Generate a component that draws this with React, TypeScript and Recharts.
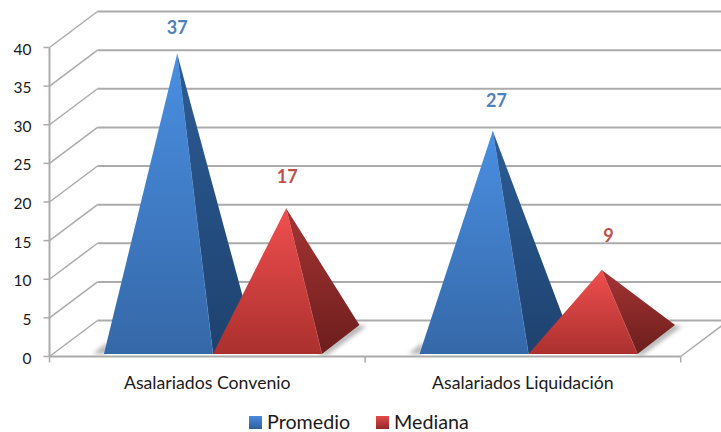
import React from "react";
import { BarChart, Bar, XAxis, YAxis, CartesianGrid, Legend, LabelList } from "recharts";

const categories = ["Asalariados Convenio", "Asalariados Liquidación"];
const promedio = [37, 27];
const mediana = [17, 9];
const yTicks = [0, 5, 10, 15, 20, 25, 30, 35, 40];

const rows = categories.map((name, i) => ({ name, promedio: promedio[i], mediana: mediana[i] }));

const FONT = "Lato, 'Open Sans', sans-serif";
const WIDTH = 721;
const HEIGHT = 432;
const PLOT_LEFT = 49.5;
const PLOT_RIGHT = 680.7;
const PLOT_TOP = 47.5;
const PLOT_BOTTOM = 356.5;
const BAND = (PLOT_RIGHT - PLOT_LEFT) / categories.length;

// Oblique projection of the wall behind the plot.
const WALL_DX = 48;
const WALL_DY = 36;
// Pyramid base: how far the front edge sits above the axis, and the depth vector of the base.
const BASE_LIFT = 2.5;
const APEX_LIFT = 17;
const BASE_DX = 37.5;
const BASE_DY = 29;
const SHIFT_X = 5.5;

const GRID = "#ababab";

const blueLook = {
  front: "url(#blueFront)",
  side: "url(#blueSide)",
  seam: "#4a80c4",
  label: "#4F81BD",
  nudges: [
    [0, -27],
    [3.7, -31],
  ],
};
const redLook = {
  front: "url(#redFront)",
  side: "url(#redSide)",
  seam: "#c94d4a",
  label: "#C0504D",
  nudges: [
    [1, -32],
    [6.7, -35],
  ],
};

const pts = (list: number[][]) => list.map((p) => p.join(",")).join(" ");

function geometry(x: number, y: number, width: number) {
  const left = x + SHIFT_X;
  const right = left + width;
  const baseY = PLOT_BOTTOM - BASE_LIFT;
  const apex = [left + width / 2 + BASE_DX / 2, y - APEX_LIFT];
  return { left, right, baseY, apex };
}

function makePyramid(look: typeof blueLook, castLeft: boolean) {
  return function Pyramid(props: any) {
    const { x, y, width } = props;
    const { left, right, baseY, apex } = geometry(x, y, width);
    const back = [right + BASE_DX, baseY - BASE_DY];
    const cast = castLeft
      ? [
          [left + 2, baseY],
          [left - 11, baseY],
          [left + 4, baseY - 12],
        ]
      : [
          [right - 4, baseY + 1],
          [right + 5, baseY + 1],
          [back[0] + 7, back[1] + 1],
          [back[0] - 3, back[1]],
        ];
    return (
      <g>
        <polygon points={pts(cast)} fill="#666" opacity={0.5} filter="url(#softCast)" />
        <polygon points={pts([[right, baseY], back, apex])} fill={look.side} />
        <polygon points={pts([[left, baseY], [right, baseY], apex])} fill={look.front} />
        <line
          x1={right}
          y1={baseY}
          x2={apex[0]}
          y2={apex[1]}
          stroke={look.seam}
          strokeWidth={0.8}
          strokeOpacity={0.5}
        />
      </g>
    );
  };
}

function makeValueLabel(look: typeof blueLook) {
  return function ValueLabel(props: any) {
    const { x, y, width, value, index } = props;
    const { apex } = geometry(x, y, width);
    const [dx, dy] = look.nudges[index];
    return (
      <text
        x={apex[0] + dx}
        y={apex[1] + dy}
        textAnchor="middle"
        dominantBaseline="central"
        fontFamily={FONT}
        fontWeight={700}
        fontSize={18}
        fill={look.label}
      >
        {value}
      </text>
    );
  };
}

// The category ticks stand on the band boundaries, and the floor's right edge runs back from the last one.
function CategoryTick(props: any) {
  const { x, payload, index } = props;
  const isLast = index === categories.length - 1;
  const leftEdge = x - BAND / 2;
  const rightEdge = x + BAND / 2;
  return (
    <g>
      <line x1={leftEdge} x2={leftEdge} y1={PLOT_BOTTOM} y2={PLOT_BOTTOM + 6} stroke={GRID} strokeWidth={1.5} />
      {isLast && (
        <>
          <line x1={rightEdge} x2={rightEdge} y1={PLOT_BOTTOM} y2={PLOT_BOTTOM + 6} stroke={GRID} strokeWidth={1.5} />
          <line
            x1={rightEdge}
            y1={PLOT_BOTTOM}
            x2={rightEdge + WALL_DX}
            y2={PLOT_BOTTOM - WALL_DY}
            stroke={GRID}
            strokeWidth={1.5}
          />
        </>
      )}
      <text
        x={x}
        y={382}
        textAnchor="middle"
        dominantBaseline="central"
        fontFamily={FONT}
        fontSize={17.7}
        fill="#1a1a1a"
      >
        {payload.value}
      </text>
    </g>
  );
}

function WallLine(props: any) {
  const { x1, x2, y1 } = props;
  const bx = x1 + WALL_DX;
  const by = y1 - WALL_DY;
  return (
    <g fill="none" stroke={GRID}>
      <line x1={x1} y1={y1} x2={bx} y2={by} strokeWidth={1.5} />
      <line x1={bx} y1={by} x2={x2 + WALL_DX} y2={by} strokeWidth={2} />
    </g>
  );
}

const swatches: Record<string, string> = {
  Promedio: "linear-gradient(#4a8cdc, #2f5f9c)",
  Mediana: "linear-gradient(#e54b4b, #8f2a28)",
};

function LegendRow(props: any) {
  const items = props.payload || [];
  return (
    <div style={{ display: "flex", alignItems: "center", fontFamily: FONT, fontSize: 19.7, lineHeight: "24px", color: "#1a1a1a" }}>
      {items.map((item: any, i: number) => (
        <div key={item.value} style={{ display: "flex", alignItems: "center", marginRight: i === 0 ? 26 : 0 }}>
          <span style={{ width: 13, height: 13, background: swatches[item.value], display: "inline-block", marginRight: 5 }} />
          <span>{item.value}</span>
        </div>
      ))}
    </div>
  );
}

export default function App() {
  return (
    <div style={{ position: "absolute", left: 0, top: 0, width: WIDTH, height: HEIGHT, overflow: "hidden", background: "#fff" }}>
      <BarChart
        width={WIDTH}
        height={HEIGHT}
        data={rows}
        margin={{ top: PLOT_TOP, right: WIDTH - PLOT_RIGHT, bottom: 0, left: 0 }}
        barCategoryGap="15.5%"
        barGap={0}
      >
        <defs>
          <linearGradient id="blueFront" x1="0" y1="0" x2="0" y2="1">
            <stop offset="0" stopColor="#4a8fe2" />
            <stop offset="1" stopColor="#3568a8" />
          </linearGradient>
          <linearGradient id="blueSide" x1="0" y1="0" x2="0" y2="1">
            <stop offset="0" stopColor="#2c5c96" />
            <stop offset="1" stopColor="#1e426f" />
          </linearGradient>
          <linearGradient id="redFront" x1="0" y1="0" x2="0" y2="1">
            <stop offset="0" stopColor="#f04f4f" />
            <stop offset="1" stopColor="#aa302e" />
          </linearGradient>
          <linearGradient id="redSide" x1="0" y1="0" x2="0" y2="1">
            <stop offset="0" stopColor="#a63434" />
            <stop offset="1" stopColor="#6c1e1d" />
          </linearGradient>
          <filter id="softCast" x="-40%" y="-40%" width="180%" height="180%">
            <feGaussianBlur stdDeviation="2" />
          </filter>
        </defs>
        <CartesianGrid horizontal={WallLine} vertical={false} />
        <XAxis
          dataKey="name"
          height={HEIGHT - PLOT_BOTTOM}
          axisLine={{ stroke: GRID, strokeWidth: 2 }}
          tickLine={false}
          tick={CategoryTick}
          interval={0}
        />
        <YAxis
          width={PLOT_LEFT}
          domain={[0, 40]}
          ticks={yTicks}
          interval={0}
          axisLine={{ stroke: GRID, strokeWidth: 2 }}
          tickLine={{ stroke: GRID, strokeWidth: 1.5 }}
          tickSize={6}
          tickMargin={12}
          tick={{ fontFamily: FONT, fontSize: 15.5, fill: "#1a1a1a", dy: 1.5 }}
        />
        <Legend
          layout="horizontal"
          verticalAlign="middle"
          itemSorter={null}
          content={LegendRow}
          wrapperStyle={{ position: "absolute", left: 249, top: 410, width: 260, height: 24 }}
        />
        <Bar dataKey="promedio" name="Promedio" fill="#4F81BD" isAnimationActive={false} shape={makePyramid(blueLook, true)}>
          <LabelList dataKey="promedio" content={makeValueLabel(blueLook)} />
        </Bar>
        <Bar dataKey="mediana" name="Mediana" fill="#C0504D" isAnimationActive={false} shape={makePyramid(redLook, false)}>
          <LabelList dataKey="mediana" content={makeValueLabel(redLook)} />
        </Bar>
      </BarChart>
    </div>
  );
}
